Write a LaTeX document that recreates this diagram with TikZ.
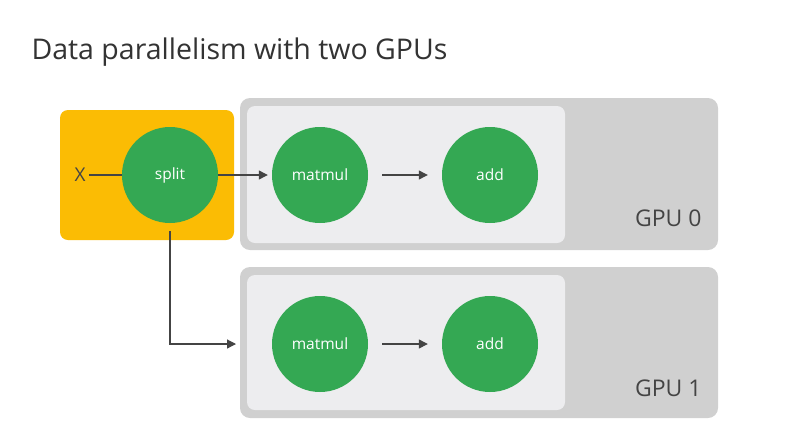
\documentclass[tikz,border=0pt]{standalone}
\usepackage{fontspec}
\setmainfont{Open Sans}
\usetikzlibrary{arrows.meta,positioning}
\definecolor{gGreen}{HTML}{34A853}
\definecolor{gYellow}{HTML}{FBBC04}
\definecolor{gpuOuter}{HTML}{D0D0D0}
\definecolor{gpuInner}{HTML}{EDEDEF}
\definecolor{lineGray}{HTML}{444444}
\tikzset{
  op/.style={circle,fill=gGreen,text=white,inner sep=0pt,minimum size=96pt,font=\fontsize{15.5}{18}\selectfont},
  flow/.style={draw=lineGray,line width=1.2pt,-{Triangle[length=9pt,width=9pt]}},
  gpulabel/.style={text=lineGray,font=\fontsize{23}{26}\selectfont,anchor=east}
}
\begin{document}
\begin{tikzpicture}[x=1pt,y=-1pt]
\useasboundingbox[fill=white] (0,0) rectangle (802,432);

% title
\node[anchor=west,text=black!80,font=\fontsize{28.5}{32}\selectfont] (title) at (28,52) {Data parallelism with two GPUs};

% boxes
\fill[gYellow,rounded corners=8pt] (60,110) rectangle (234,240);
\fill[gpuOuter,rounded corners=10pt] (240,98) rectangle (718,250);
\fill[gpuInner,rounded corners=8pt] (247,106) rectangle (565,243);
\fill[gpuOuter,rounded corners=10pt] (240,267) rectangle (718,418);
\fill[gpuInner,rounded corners=8pt] (247,275) rectangle (565,410);

\node[gpulabel] (gpu0) at (705,218) {GPU 0};
\node[gpulabel] (gpu1) at (705,388) {GPU 1};

% ops
\node[text=lineGray,font=\fontsize{19}{21}\selectfont] (x) at (80,175) {X};
\node[op] (split) at (170,175) {split};
\node[op] (matmul0) at (320,175) {matmul};
\node[op] (add0) at (490,175) {add};
\node[op] (matmul1) at (320,344) {matmul};
\node[op] (add1) at (490,344) {add};
\coordinate (in1) at (236,344);

% connectors
\draw[draw=lineGray,line width=1.2pt] (x) -- (split);
\draw[flow,shorten >=4pt] (split) -- (matmul0);
\draw[flow,shorten <=14pt,shorten >=14pt] (matmul0) -- (add0);
\draw[flow,shorten <=14pt,shorten >=14pt] (matmul1) -- (add1);
\draw[flow,shorten <=8pt] (split.south) |- (in1);
\end{tikzpicture}
\end{document}
